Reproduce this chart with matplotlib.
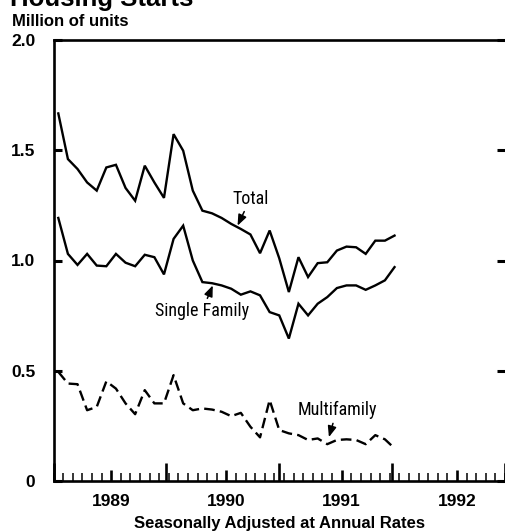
import matplotlib
matplotlib.use("Agg")
import matplotlib.pyplot as plt
from matplotlib import font_manager
import numpy as np

# ---- data (monthly, Jan 1989 - Dec 1991), million units, SAAR ----
months = np.arange(36) + 0.5  # mid-month positions, months since Jan 1989
total = [1.667, 1.460, 1.415, 1.354, 1.317, 1.422, 1.434, 1.329, 1.271, 1.430, 1.354, 1.284,
         1.573, 1.498, 1.317, 1.226, 1.214, 1.193, 1.166, 1.143, 1.118, 1.033, 1.136, 1.010,
         0.857, 1.015, 0.925, 0.988, 0.992, 1.045, 1.063, 1.060, 1.030, 1.090, 1.090, 1.113]
single = [1.193, 1.030, 0.980, 1.030, 0.977, 0.974, 1.030, 0.990, 0.974, 1.026, 1.015, 0.937,
          1.098, 1.158, 1.000, 0.902, 0.897, 0.887, 0.872, 0.845, 0.860, 0.842, 0.766, 0.751,
          0.646, 0.804, 0.751, 0.804, 0.834, 0.875, 0.887, 0.887, 0.867, 0.887, 0.910, 0.970]
multi = [0.495, 0.442, 0.439, 0.321, 0.336, 0.452, 0.419, 0.352, 0.303, 0.412, 0.352, 0.352,
         0.480, 0.352, 0.321, 0.329, 0.324, 0.314, 0.294, 0.309, 0.246, 0.198, 0.367, 0.231,
         0.216, 0.208, 0.186, 0.193, 0.167, 0.186, 0.189, 0.186, 0.167, 0.208, 0.189, 0.148]
year_labels = ["1989", "1990", "1991", "1992"]
year_label_pos = [6, 18, 30, 42]
year_bounds = [0, 12, 24, 36, 48]
y_ticks = [0, 0.5, 1.0, 1.5, 2.0]
y_ticklabels = ["0", "0.5", "1.0", "1.5", "2.0"]

names = {f.name for f in font_manager.fontManager.ttflist}
base = "Liberation Sans"
narrow = None
for cand in ["Liberation Sans Narrow", "Arial Narrow", "Roboto Condensed",
             "Open Sans Condensed", "Nimbus Sans Narrow"]:
    if cand in names:
        narrow = cand
        break
ann_size = 13 if narrow else 12
if narrow is None:
    narrow = base
plt.rcParams["font.family"] = [base, "DejaVu Sans"]

fig = plt.figure(figsize=(5.05, 5.31), dpi=100)
ax = fig.add_axes([53.5 / 505, 50 / 531, 1 - 53.5 / 505, 441 / 531])

lw = 1.7
ax.plot(months, total, color="black", lw=lw, solid_joinstyle="miter")
ax.plot(months, single, color="black", lw=lw, solid_joinstyle="miter")
ax.plot(months, multi, color="black", lw=lw, linestyle=(0, (4.5, 2.2)))

ax.set_xlim(0, 451.5 / 9.68)
ax.set_ylim(0, 2.0)

for s in ["left", "bottom", "top"]:
    ax.spines[s].set_linewidth(1.9)
ax.spines["right"].set_visible(False)

# y ticks (left and right, inward)
ax.set_yticks(y_ticks)
ax.set_yticklabels(y_ticklabels, fontsize=12.5, fontweight="bold")
ax.tick_params(axis="y", which="major", direction="in", length=6, width=2.2,
               left=True, right=True, pad=13)

# x ticks: months minor, mid-year medium (labelled)
ax.set_xticks(year_label_pos)
ax.set_xticklabels(year_labels, fontsize=12.5, fontweight="bold")
ax.set_xticks(np.arange(0, 48), minor=True)
ax.tick_params(axis="x", which="major", direction="in", length=8, width=1.9, pad=9)
ax.tick_params(axis="x", which="minor", direction="in", length=5.8, width=1.1)

# year boundaries: tall ticks
ax2 = ax.twiny()
ax2.set_xlim(ax.get_xlim())
ax2.xaxis.set_ticks_position("bottom")
ax2.set_xticks(year_bounds)
ax2.tick_params(axis="x", which="major", direction="in", length=13, width=1.9,
                labelbottom=False, labeltop=False)
for s in ax2.spines.values():
    s.set_visible(False)

arrow = dict(arrowstyle="-|>,head_length=0.5,head_width=0.2", color="black", lw=1.1,
             shrinkA=1, shrinkB=0)
ax.annotate("Total", xy=(19.16, 1.158), xytext=(20.5, 1.281), fontsize=ann_size,
            family=[narrow, "DejaVu Sans"], ha="center", va="center", arrowprops=arrow)
ax.annotate("Single Family", xy=(16.58, 0.887), xytext=(15.44, 0.769), fontsize=ann_size,
            family=[narrow, "DejaVu Sans"], ha="center", va="center", arrowprops=arrow)
ax.annotate("Multifamily", xy=(28.67, 0.199), xytext=(29.5, 0.321), fontsize=ann_size,
            family=[narrow, "DejaVu Sans"], ha="center", va="center", arrowprops=arrow)

fig.text(10 / 505, (531 - 6) / 531, "Housing Starts", fontsize=18.5, fontweight="bold",
         ha="left", va="baseline")
fig.text(12.5 / 505, (531 - 26.5) / 531, "Million of units", fontsize=12, fontweight="bold",
         ha="left", va="baseline")
fig.text(279 / 505, (531 - 528) / 531, "Seasonally Adjusted at Annual Rates", fontsize=12,
         fontweight="bold", ha="center", va="baseline")

fig.savefig("out.png", dpi=100)
